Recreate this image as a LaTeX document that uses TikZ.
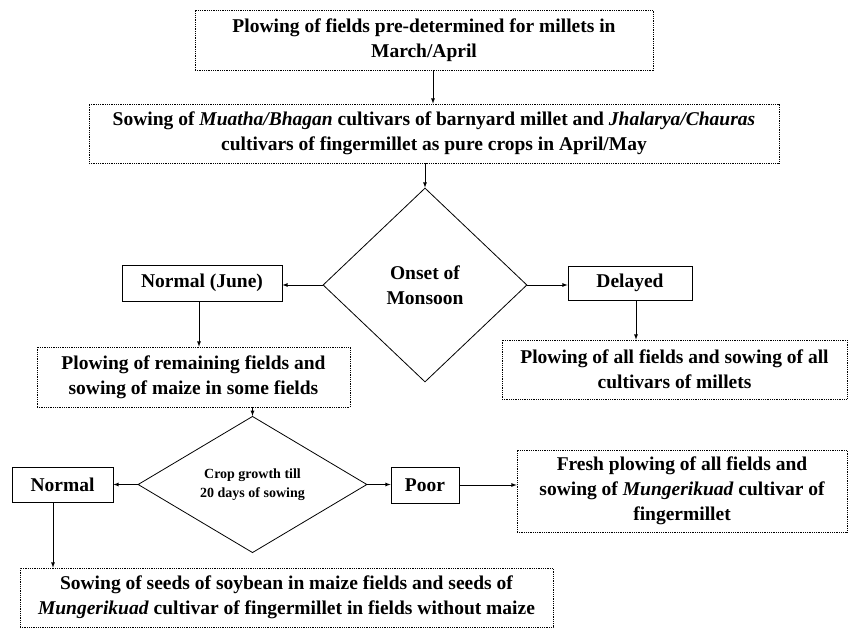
\documentclass[tikz,border=0pt]{standalone}
\usepackage{fontspec}
\setmainfont{Liberation Serif}
\usetikzlibrary{arrows, positioning, shapes.geometric}
\tikzset{every node/.style={font=\fontsize{19.5}{25}\selectfont\bfseries, align=center, inner sep=0pt},
  dotbox/.style={draw, line width=0.7pt, dash pattern=on 0.9pt off 0.9pt},
  plainbox/.style={draw, line width=0.8pt},
  decision/.style={draw, diamond, line width=0.8pt},
  flow/.style={->, >=latex, line width=0.8pt}}

\begin{document}
\begin{tikzpicture}[x=1pt, y=-1pt]
      \useasboundingbox (0,0) rectangle (849,631);
      \node[dotbox, minimum width=458pt, minimum height=60pt] (plow_millets) at (424,40) {Plowing of fields pre-determined for millets in\\March/April};
      \node[dotbox, minimum width=690pt, minimum height=59pt] (sowing_pure) at (434,133.5) {Sowing of \textit{Muatha/Bhagan} cultivars of barnyard millet and \textit{Jhalarya/Chauras}\\cultivars of fingermillet as pure crops in April/May};
      \node[decision, minimum width=204pt, minimum height=194pt] (monsoon) at (425,285) {Onset of\\Monsoon};
      \node[plainbox, minimum width=160pt, minimum height=36pt] (normal_june) at (202,283) {Normal (June)};
      \node[plainbox, minimum width=124pt, minimum height=34pt] (delayed) at (630,283) {Delayed};
      \node[dotbox, minimum width=313pt, minimum height=60pt] (plow_remaining) at (193.5,377) {Plowing of remaining fields and\\sowing of maize in some fields};
      \node[dotbox, minimum width=345pt, minimum height=59pt] (plow_all) at (674.5,369.5) {Plowing of all fields and sowing of all\\cultivars of millets};
      \node[decision, minimum width=229pt, minimum height=117pt, font=\fontsize{14}{19}\selectfont\bfseries] (growth) at (252.5,484.5) {Crop growth till\\20 days of sowing};
      \node[plainbox, minimum width=101pt, minimum height=35pt] (normal) at (62.5,484.5) {Normal};
      \node[plainbox, minimum width=68pt, minimum height=36pt] (poor) at (425,485) {Poor};
      \node[dotbox, minimum width=330pt, minimum height=82pt] (fresh_plow) at (682,491) {Fresh plowing of all fields and\\sowing of \textit{Mungerikuad} cultivar of\\fingermillet};
      \node[dotbox, minimum width=533pt, minimum height=59pt] (soybean) at (286.5,597.5) {Sowing of seeds of soybean in maize fields and seeds of\\\textit{Mungerikuad} cultivar of fingermillet in fields without maize};
      % connectors
      \draw[flow] ([xshift=9pt]plow_millets.south) -- ([xshift=9pt]plow_millets.south |- sowing_pure.north);
      \draw[flow] (monsoon.north |- sowing_pure.south) -- (monsoon.north);
      \draw[flow] (monsoon.west) -- (monsoon.west -| normal_june.east);
      \draw[flow] (monsoon.east) -- (monsoon.east -| delayed.west);
      \draw[flow] ([xshift=-3pt]normal_june.south) -- ([xshift=-3pt]normal_june.south |- plow_remaining.north);
      \draw[flow] ([xshift=6pt]delayed.south) -- ([xshift=6pt]delayed.south |- plow_all.north);
      \draw[flow] (growth.north |- plow_remaining.south) -- (growth.north);
      \draw[flow] (growth.west) -- (growth.west -| normal.east);
      \draw[flow] (growth.east) -- (growth.east -| poor.west);
      \draw[flow] (poor.east) -- (poor.east -| fresh_plow.west);
      \draw[flow] ([xshift=-9.5pt]normal.south) -- ([xshift=-9.5pt]normal.south |- soybean.north);
\end{tikzpicture}
\end{document}
